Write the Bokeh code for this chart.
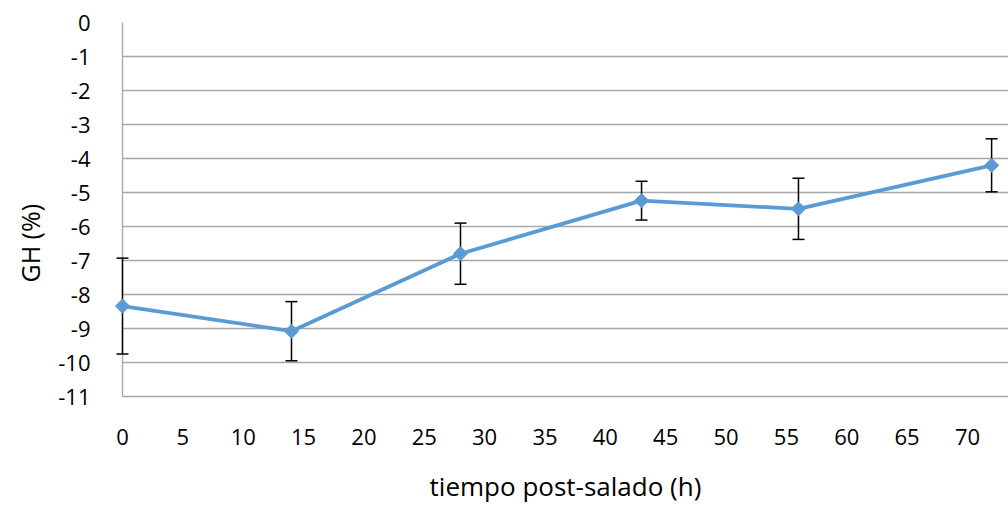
import math
from bokeh.plotting import figure
from bokeh.models import Range1d, ColumnDataSource, FixedTicker, Title
from bokeh.embed import file_html
from bokeh.resources import INLINE

# data
tiempo = [0, 14, 28, 43, 56, 72]
gh = [-8.34, -9.08, -6.80, -5.24, -5.48, -4.20]
err = [1.41, 0.87, 0.90, 0.57, 0.90, 0.78]
x_ticks = list(range(0, 75, 5))
y_ticks = list(range(-11, 1))

upper = [m + e for m, e in zip(gh, err)]
lower = [m - e for m, e in zip(gh, err)]
src = ColumnDataSource(dict(x=tiempo, y=gh, upper=upper, lower=lower))

FONT = "Open Sans"
GRID = "#a6a6a6"

p = figure(width=1008, height=506, output_backend="svg", toolbar_location=None,
           x_range=Range1d(0, 73.4), y_range=Range1d(-11, 0),
           min_border_left=122, min_border_right=0, min_border_top=22, min_border_bottom=109)
p.outline_line_color = None
p.background_fill_color = "white"
p.border_fill_color = "white"

p.xaxis.ticker = FixedTicker(ticks=x_ticks)
p.yaxis.ticker = FixedTicker(ticks=y_ticks)
p.xaxis.major_label_overrides = {t: str(t) for t in x_ticks}
p.yaxis.major_label_overrides = {t: str(t) for t in y_ticks}
p.xgrid.visible = False
p.ygrid.grid_line_color = GRID
p.ygrid.grid_line_width = 1.3

for ax in (p.xaxis, p.yaxis):
    ax.axis_line_color = GRID
    ax.axis_line_width = 1.3
    ax.major_tick_line_color = None
    ax.minor_tick_line_color = None
    ax.major_label_text_font = FONT
    ax.major_label_text_font_size = "22px"
    ax.major_label_text_color = "black"
    ax.axis_label_text_font = FONT
    ax.axis_label_text_font_size = "26px"
    ax.axis_label_text_font_style = "normal"
    ax.axis_label_text_color = "black"

p.xaxis.major_label_standoff = 26
p.yaxis.major_label_standoff = 26
p.xaxis.axis_label = "tiempo post-salado (h)"
p.xaxis.axis_label_standoff = 20

ytitle = Title(text="GH (%)", align="left", offset=114, standoff=18,
               text_font=FONT, text_font_size="25px", text_font_style="normal",
               text_color="black")
p.add_layout(ytitle, "left")

# error bars (drawn beneath the series)
p.segment(x0="x", y0="lower", x1="x", y1="upper", source=src,
          line_color="black", line_width=1.5, level="overlay")
p.scatter("x", "upper", source=src, marker="dash", size=12,
          line_color="black", line_width=1.5, level="overlay")
p.scatter("x", "lower", source=src, marker="dash", size=12,
          line_color="black", line_width=1.5, level="overlay")

p.line("x", "y", source=src, line_color="#5B9BD5", line_width=3.8, level="overlay")
p.scatter("x", "y", source=src, marker="square", angle=math.pi / 4, size=10,
          fill_color="#5B9BD5", line_color="#5B9BD5", level="overlay")

open("out.html", "w").write(file_html(p, INLINE))
